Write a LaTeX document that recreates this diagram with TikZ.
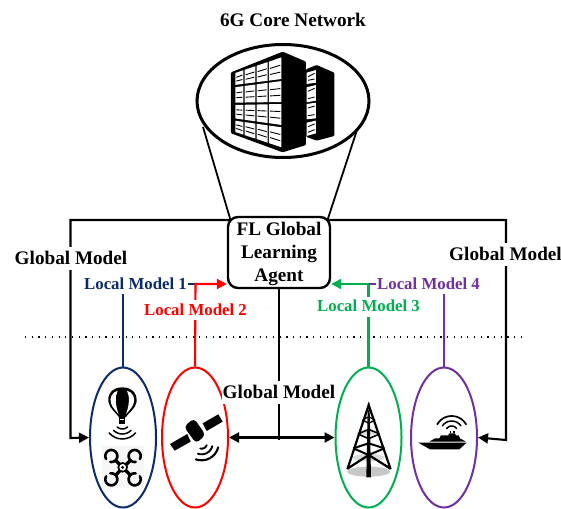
\documentclass[tikz,border=0pt]{standalone}
\usepackage{fontspec}
\setmainfont{Liberation Serif}
\usetikzlibrary{arrows.meta,shapes.geometric,calc}
\definecolor{cnavy}{HTML}{0B2C6B}
\definecolor{cred}{HTML}{FF0000}
\definecolor{cgreen}{HTML}{00B050}
\definecolor{cpurple}{HTML}{7030A0}
\pgfdeclarelayer{bg}
\pgfsetlayers{bg,main}
\tikzset{
  pod/.style={draw,ellipse,line width=2pt,minimum width=66,minimum height=140,inner sep=0},
  lbl/.style={font=\bfseries\fontsize{19.2}{19.2}\selectfont,fill=white,inner sep=0.5pt,text height=15,text depth=3,minimum height=23},
  llbl/.style={font=\bfseries\fontsize{16.8}{16.8}\selectfont,fill=white,inner sep=0.5pt,text height=13,text depth=3,minimum height=20},
  conn/.style={line width=2.1pt},
  tip/.style={-{Triangle[length=10pt,width=10pt]}},
  wave/.style={line width=1.5pt,line cap=round},
}
\newcommand{\arcw}[6][]{\draw[wave,#1] plot[smooth,samples=9,domain=#5:#6] ({#2+#4*cos(\x)},{#3+#4*sin(\x)});}
\begin{document}
\begin{tikzpicture}[x=1pt,y=-1pt]
\useasboundingbox (0,0) rectangle (561,508);
% nodes
\node[font=\bfseries\fontsize{19.2}{19.2}\selectfont] (title) at (293,20) {6G Core Network};
\node[draw,ellipse,line width=3pt,fill=white,minimum width=172,minimum height=113,inner sep=0] (core) at (283,101) {};
\node[draw,line width=2.4pt,rounded corners=10pt,fill=white,minimum width=102,minimum height=71,inner sep=0,align=center,
  font=\bfseries\fontsize{19.2}{23}\selectfont] (agent) at (279,252.5) {\rule{0pt}{16pt}FL Global\\Learning\\Agent};
\node[pod,draw=cnavy] (p1) at (123,437.5) {};
\node[pod,draw=cred] (p2) at (195,437.5) {};
\node[pod,draw=cgreen] (p3) at (368.5,437.5) {};
\node[pod,draw=cpurple] (p4) at (444,437.5) {};
\node[lbl] (gl) at (71,258) {Global Model};
\node[lbl] (gr) at (505.5,254) {Global Model};
\node[lbl] (gc) at (279,392) {Global Model};
\node[llbl,text=cnavy] (l1) at (135.5,284) {Local Model 1};
\node[llbl,text=cred] (l2) at (195.5,310) {Local Model 2};
\node[llbl,text=cgreen] (l3) at (368.5,306.5) {Local Model 3};
\node[llbl,text=cpurple] (l4) at (428.5,284) {Local Model 4};
\coordinate (dl) at (25,337);
\coordinate (dr) at (522,337);
\coordinate (tl) at (230.5,220);
\coordinate (tr) at (327.5,220);
\coordinate (cl) at (203,127);
\coordinate (cr) at (357,130);
\begin{pgfonlayer}{bg}
\draw[line width=1.2pt,dash pattern=on 1.2pt off 5.5pt] (dl) -- (dr);
\draw[line width=1.8pt] (cl) -- (tl);
\draw[line width=1.8pt] (cr) -- (tr);
\draw[conn,tip] (tl) -- (70.5,220) -- (70.5,438) -- (p1.west);
\draw[conn,tip] (tr) -- (506,220) -- (506,440) -- (p4.east);
\draw[conn] (agent.south) -- (279,440);
\draw[conn,{Triangle[length=10pt,width=10pt]}-{Triangle[length=10pt,width=10pt]}] (p2.east) -- (p3.west);
\draw[conn,draw=cnavy] (p1.north) -- (p1.north |- l1.south);
\draw[conn,draw=cnavy] (l1.east) -- (195.5,284);
\draw[conn,draw=cred,tip] (p2.north) -- (195.5,284) -- (agent.west |- l1.east);
\draw[conn,draw=cgreen,tip] (p3.north) -- (368.5,284) -- (agent.east |- l4.west);
\draw[conn,draw=cpurple] (l4.west) -- (368.5,284);
\draw[conn,draw=cpurple] (p4.north) -- (p4.north |- l4.south);
\end{pgfonlayer}
% server icon
\begin{scope}[shift={(180,30)},x=.3333pt,y=-.3333pt]
\fill[black,rounded corners=1pt] (378,118) -- (410,105) -- (463,128) -- (463,318) -- (410,332) -- (378,320) -- cycle;
\foreach \la/\lb/\ra/\rb in {128/162/120/158,172/217/165/212,222/268/218/265,278/318/272/310}{
  \fill[white] (380,\la) -- (408,\ra) -- (408,\rb) -- (380,\lb) -- cycle;
  \draw[line width=.9pt] (384,\la+12) -- (404,\ra+10);
  \draw[line width=.9pt] (384,\lb-11) -- (404,\rb-11);
}
\fill[black,rounded corners=1pt] (153,127) -- (308,65) -- (378,95) -- (378,345) -- (308,367) -- (153,310) -- cycle;
\foreach \xa/\xb in {166/190,194/226,230/263,267/304}{
 \foreach \la/\lb/\ra/\rb in {130/165/82/147,172/218/153/216,225/265/222/285,272/305/292/352}{
  \pgfmathsetmacro{\ta}{(\xa-163)/142}
  \pgfmathsetmacro{\tb}{(\xb-163)/142}
  \pgfmathsetmacro{\yaa}{\la+\ta*(\ra-\la)}
  \pgfmathsetmacro{\yab}{\la+\tb*(\ra-\la)}
  \pgfmathsetmacro{\yba}{\lb+\ta*(\rb-\lb)}
  \pgfmathsetmacro{\ybb}{\lb+\tb*(\rb-\lb)}
  \fill[white] (\xa,\yaa) -- (\xb,\yab) -- (\xb,\ybb) -- (\xa,\yba) -- cycle;
  \draw[line width=.9pt] (\xa+3,{\yaa+(\yba-\yaa)*.36}) -- (\xb-3,{\yab+(\ybb-\yab)*.36});
  \draw[line width=.9pt] (\xa+3,{\yaa+(\yba-\yaa)*.68}) -- (\xb-3,{\yab+(\ybb-\yab)*.68});
 }
}
\end{scope}
% balloon, drone, satellite
\begin{scope}[shift={(60,360)},x=.3333pt,y=-.3333pt]
\fill (187,82) .. controls (150,82) and (143,110) .. (145,125) .. controls (148,145) and (170,160) .. (177,172) -- (197,172) .. controls (204,160) and (228,145) .. (230,125) .. controls (232,110) and (224,82) .. (187,82) -- cycle;
\fill[white] (173,92) .. controls (155,97) and (148,115) .. (153,130) .. controls (157,143) and (168,152) .. (176,163) .. controls (166,135) and (164,110) .. (173,92) -- cycle;
\fill[white] (201,92) .. controls (219,97) and (226,115) .. (221,130) .. controls (217,143) and (206,152) .. (198,163) .. controls (208,135) and (210,110) .. (201,92) -- cycle;
\fill (178,172) rectangle (196,191);
\fill[white] (181,176) rectangle (193,180);
\arcw{187}{185}{22}{45}{135}
\arcw{187}{185}{37}{45}{135}
\arcw{187}{185}{52}{40}{140}
\fill[black!3] (126,258) rectangle (252,385);
\foreach \cx/\cy/\a/\b in {154/288/150/460,224/288/80/390,154/358/-100/210,224/358/-30/280}{
  \draw[line width=2.6pt,line cap=round] plot[smooth,samples=25,domain=\a:\b] ({\cx+18*cos(\x)},{\cy+18*sin(\x)});
}
\draw[line width=3.4pt] (167,301) -- (211,345);
\draw[line width=3.4pt] (211,301) -- (167,345);
\fill (188,322) circle[radius=16];
\fill[white] (188,322) circle[radius=10];
\fill (188,322) circle[radius=5];
% satellite
\fill (330,252) -- (382,222) -- (392,245) -- (344,272) -- cycle;
\fill (428,190) -- (475,163) -- (488,185) -- (440,213) -- cycle;
\fill[rounded corners=4pt] (372,200) -- (402,175) -- (437,225) -- (408,250) -- cycle;
\arcw[line width=1.9pt]{425}{250}{16}{20}{105}
\arcw[line width=1.9pt]{425}{250}{33}{15}{110}
\arcw[line width=2.1pt]{425}{250}{51}{14}{110}
\end{scope}
% tower, ship
\begin{scope}[shift={(320,360)},x=.3333pt,y=-.3333pt]
\fill[black!22] (146,335) ellipse[x radius=65,y radius=15];
\fill[black!14] (146,293) ellipse[x radius=48,y radius=11];
\fill[black!12] (146,218) ellipse[x radius=26,y radius=8];
\fill (146,131) circle[radius=3];
\draw[line width=2.2pt,line join=miter] (82,328) -- (146,135) -- (212,328);
\fill (143,150) -- (149,150) -- (153,352) -- (139,352) -- cycle;
\draw[line width=1.3pt] (128,180) -- (146,170) -- (165,180);
\draw[line width=1.3pt] (128,180) -- (146,190) -- (165,180);
\draw[line width=1.6pt] (114,222) -- (146,208) -- (179,222);
\draw[line width=1.6pt] (114,222) -- (146,236) -- (179,222);
\draw[line width=2pt] (100,265) -- (146,250) -- (193,265);
\draw[line width=2pt] (100,265) -- (146,285) -- (193,265);
\draw[line width=2.2pt] (84,325) -- (146,285) -- (210,325);
% ship
\fill (295,248) -- (440,248) -- (418,268) -- (330,268) -- cycle;
\fill (328,245) -- (345,235) -- (358,235) -- (363,226) -- (385,226) -- (387,220) -- (405,220) -- (408,226) -- (416,226) -- (420,235) -- (438,245) -- cycle;
\fill (390,214) rectangle (394,220);
\fill (400,214) rectangle (404,220);
\arcw{395}{216}{18}{-145}{-35}
\arcw{395}{217}{34}{-145}{-35}
\arcw[line width=1.7pt]{395}{218}{50}{-150}{-30}
\end{scope}
\end{tikzpicture}
\end{document}
